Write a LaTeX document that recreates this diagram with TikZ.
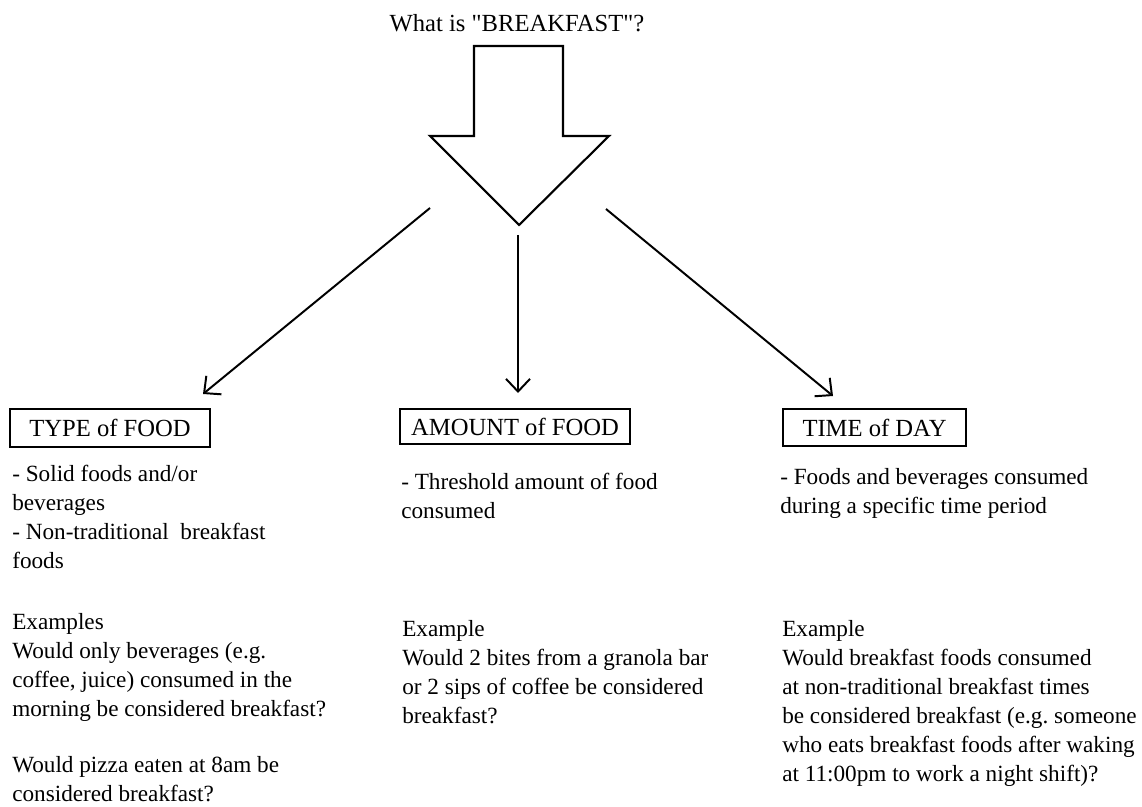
\documentclass[tikz,border=0pt]{standalone}
\usepackage{fontspec}
\setmainfont{Liberation Serif}[Ligatures=TeXOff]
\usetikzlibrary{arrows.meta}

\begin{document}
\frenchspacing
\begin{tikzpicture}
      [x=0.025cm,y=-0.025cm
      ,txt/.style={align=left,inner sep=0pt,font=\fontsize{16.5}{20.6}\selectfont}
      ,headbox/.style={draw,line width=0.9pt,inner sep=0pt,font=\fontsize{17.5}{20.6}\selectfont}
      ,conn/.style={line width=1.4pt,-{Straight Barb[length=9pt,width=17pt,line width=1.4pt]}}
      ]
        \useasboundingbox (0,0) rectangle (1142,807);
        \node[inner sep=0pt,anchor=base,font=\fontsize{17.5}{20.6}\selectfont] (question) at (517,32) {What is "BREAKFAST"?};
        \draw[line width=1.5pt,line join=miter] (474,46) -- (563,46) -- (563,136) -- (609,136)
              -- (519,225) -- (430,136) -- (474,136) -- cycle;
        \coordinate (fromType) at (430,208);
        \coordinate (fromAmount) at (518,235);
        \coordinate (fromTime) at (606,209);
        \coordinate (tipType) at (203,394);
        \coordinate (tipAmount) at (518,393);
        \coordinate (tipTime) at (833,396);
        \node[headbox,minimum width=5cm,minimum height=0.95cm] (typeFood) at (110,428) {TYPE of FOOD\hspace{5pt}};
        \node[headbox,minimum width=5.75cm,minimum height=0.875cm] (amountFood) at (515,426.5) {AMOUNT of FOOD};
        \node[headbox,minimum width=4.575cm,minimum height=0.925cm] (timeDay) at (874.5,427.5) {TIME of DAY\hspace{5pt}};
        \draw[conn] (fromType) -- (tipType);
        \draw[conn] (fromAmount) -- (tipAmount);
        \draw[conn] (fromTime) -- (tipTime);
        % what each heading means
        \node[txt,anchor=north west] (typeText) at (12,465) {- Solid foods and/or\\beverages\\- Non-traditional\ \ breakfast\\foods};
        \node[txt,anchor=north west] (amountText) at (401,473) {- Threshold amount of food\\consumed};
        \node[txt,anchor=north west] (timeText) at (780,468) {- Foods and beverages consumed\\during a specific time period};
        % examples
        \node[txt,anchor=north west] (typeEx) at (12,613) {Examples\\Would only beverages (e.g.\\coffee, juice) consumed in the\\morning be considered breakfast?\\[19.5pt]Would pizza eaten at 8am be\\considered breakfast?};
        \node[txt,anchor=north west] (amountEx) at (402,620) {Example\\Would 2 bites from a granola bar\\or 2 sips of coffee be considered\\breakfast?};
        \node[txt,anchor=north west] (timeEx) at (782,620) {Example\\Would breakfast foods consumed\\at non-traditional breakfast times\\be considered breakfast (e.g. someone\\who eats breakfast foods after waking\\at 11:00pm to work a night shift)?};
      \end{tikzpicture}
\end{document}
